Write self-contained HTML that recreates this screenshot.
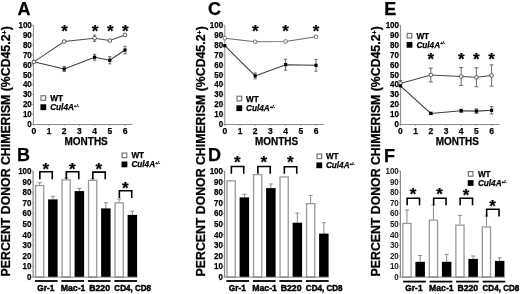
<!DOCTYPE html>
<html><head><meta charset="utf-8"><style>
html,body{margin:0;padding:0;background:#fff;width:520px;height:294px;overflow:hidden;font-family:"Liberation Sans", sans-serif;}
</style></head><body>
<svg width="520" height="294" viewBox="0 0 520 294" style="position:absolute;left:0;top:0;filter:blur(0.35px)">
<style>text{font-family:"Liberation Sans",sans-serif;font-weight:bold;fill:#000;stroke:#000;stroke-width:0.25px}.lt{stroke:none;fill:#222}.hv{stroke-width:0.45px}</style>
<text x="17.5" y="14.8" font-size="18" >A</text>
<text x="208" y="14.5" font-size="18" >C</text>
<text x="384.2" y="14.7" font-size="18" >E</text>
<text x="16.9" y="160.6" font-size="18" >B</text>
<text x="208" y="161" font-size="18" >D</text>
<text x="384" y="161.5" font-size="18" >F</text>
<text transform="translate(10,276.4) rotate(-90)" x="0" y="0" font-size="12.3">PERCENT DONOR CHIMERISM (%CD45.2<tspan font-size="7.1" dy="-3.3">+</tspan><tspan dy="3.3">)</tspan></text>
<text transform="translate(205,276.4) rotate(-90)" x="0" y="0" font-size="12.3">PERCENT DONOR CHIMERISM (%CD45.2<tspan font-size="7.1" dy="-3.3">+</tspan><tspan dy="3.3">)</tspan></text>
<text transform="translate(380,276.4) rotate(-90)" x="0" y="0" font-size="12.3">PERCENT DONOR CHIMERISM (%CD45.2<tspan font-size="7.1" dy="-3.3">+</tspan><tspan dy="3.3">)</tspan></text>
<line x1="33.4" y1="25.2" x2="33.4" y2="125" stroke="#8a8a8a" stroke-width="1"/>
<line x1="32.9" y1="124.5" x2="132.4" y2="124.5" stroke="#8a8a8a" stroke-width="1"/>
<text x="31.8" y="127.09" font-size="9.2" text-anchor="end" textLength="4.45" lengthAdjust="spacingAndGlyphs">0</text>
<line x1="31.9" y1="124.2" x2="33.4" y2="124.2" stroke="#8a8a8a" stroke-width="0.8"/>
<text x="31.8" y="117.19" font-size="9.2" text-anchor="end" textLength="8.90" lengthAdjust="spacingAndGlyphs">10</text>
<line x1="31.9" y1="114.3" x2="33.4" y2="114.3" stroke="#8a8a8a" stroke-width="0.8"/>
<text x="31.8" y="107.29" font-size="9.2" text-anchor="end" textLength="8.90" lengthAdjust="spacingAndGlyphs">20</text>
<line x1="31.9" y1="104.4" x2="33.4" y2="104.4" stroke="#8a8a8a" stroke-width="0.8"/>
<text x="31.8" y="97.39" font-size="9.2" text-anchor="end" textLength="8.90" lengthAdjust="spacingAndGlyphs">30</text>
<line x1="31.9" y1="94.5" x2="33.4" y2="94.5" stroke="#8a8a8a" stroke-width="0.8"/>
<text x="31.8" y="87.49" font-size="9.2" text-anchor="end" textLength="8.90" lengthAdjust="spacingAndGlyphs">40</text>
<line x1="31.9" y1="84.6" x2="33.4" y2="84.6" stroke="#8a8a8a" stroke-width="0.8"/>
<text x="31.8" y="77.59" font-size="9.2" text-anchor="end" textLength="8.90" lengthAdjust="spacingAndGlyphs">50</text>
<line x1="31.9" y1="74.7" x2="33.4" y2="74.7" stroke="#8a8a8a" stroke-width="0.8"/>
<text x="31.8" y="67.69" font-size="9.2" text-anchor="end" textLength="8.90" lengthAdjust="spacingAndGlyphs">60</text>
<line x1="31.9" y1="64.8" x2="33.4" y2="64.8" stroke="#8a8a8a" stroke-width="0.8"/>
<text x="31.8" y="57.79" font-size="9.2" text-anchor="end" textLength="8.90" lengthAdjust="spacingAndGlyphs">70</text>
<line x1="31.9" y1="54.9" x2="33.4" y2="54.9" stroke="#8a8a8a" stroke-width="0.8"/>
<text x="31.8" y="47.89" font-size="9.2" text-anchor="end" textLength="8.90" lengthAdjust="spacingAndGlyphs">80</text>
<line x1="31.9" y1="45" x2="33.4" y2="45" stroke="#8a8a8a" stroke-width="0.8"/>
<text x="31.8" y="37.99" font-size="9.2" text-anchor="end" textLength="8.90" lengthAdjust="spacingAndGlyphs">90</text>
<line x1="31.9" y1="35.1" x2="33.4" y2="35.1" stroke="#8a8a8a" stroke-width="0.8"/>
<text x="31.8" y="28.09" font-size="9.2" text-anchor="end" textLength="13.35" lengthAdjust="spacingAndGlyphs">100</text>
<line x1="31.9" y1="25.2" x2="33.4" y2="25.2" stroke="#8a8a8a" stroke-width="0.8"/>
<line x1="33.8" y1="124.2" x2="33.8" y2="126" stroke="#8a8a8a" stroke-width="0.8"/>
<text x="33.8" y="133.8" font-size="9.5" text-anchor="middle" textLength="4.75" lengthAdjust="spacingAndGlyphs">0</text>
<line x1="49" y1="124.2" x2="49" y2="126" stroke="#8a8a8a" stroke-width="0.8"/>
<text x="49" y="133.8" font-size="9.5" text-anchor="middle" textLength="4.75" lengthAdjust="spacingAndGlyphs">1</text>
<line x1="64.2" y1="124.2" x2="64.2" y2="126" stroke="#8a8a8a" stroke-width="0.8"/>
<text x="64.2" y="133.8" font-size="9.5" text-anchor="middle" textLength="4.75" lengthAdjust="spacingAndGlyphs">2</text>
<line x1="79.4" y1="124.2" x2="79.4" y2="126" stroke="#8a8a8a" stroke-width="0.8"/>
<text x="79.4" y="133.8" font-size="9.5" text-anchor="middle" textLength="4.75" lengthAdjust="spacingAndGlyphs">3</text>
<line x1="94.6" y1="124.2" x2="94.6" y2="126" stroke="#8a8a8a" stroke-width="0.8"/>
<text x="94.6" y="133.8" font-size="9.5" text-anchor="middle" textLength="4.75" lengthAdjust="spacingAndGlyphs">4</text>
<line x1="109.8" y1="124.2" x2="109.8" y2="126" stroke="#8a8a8a" stroke-width="0.8"/>
<text x="109.8" y="133.8" font-size="9.5" text-anchor="middle" textLength="4.75" lengthAdjust="spacingAndGlyphs">5</text>
<line x1="125" y1="124.2" x2="125" y2="126" stroke="#8a8a8a" stroke-width="0.8"/>
<text x="125" y="133.8" font-size="9.5" text-anchor="middle" textLength="4.75" lengthAdjust="spacingAndGlyphs">6</text>
<text x="86.15" y="144.6" font-size="10" text-anchor="middle" textLength="43.2" lengthAdjust="spacingAndGlyphs">MONTHS</text>
<polyline points="33.8,61.83 64.2,41.54 94.6,38.17 109.8,40.55 125,34.91" fill="none" stroke="#4a4a4a" stroke-width="1.05"/>
<polyline points="33.8,61.83 64.2,69.06 94.6,57.28 109.8,60.25 125,50.05" fill="none" stroke="#383838" stroke-width="1.05"/>
<line x1="94.6" y1="35" x2="94.6" y2="41.34" stroke="#5a5a5a" stroke-width="0.9"/>
<line x1="93" y1="35" x2="96.2" y2="35" stroke="#5a5a5a" stroke-width="0.9"/>
<line x1="93" y1="41.34" x2="96.2" y2="41.34" stroke="#5a5a5a" stroke-width="0.9"/>
<line x1="109.8" y1="39.56" x2="109.8" y2="41.54" stroke="#5a5a5a" stroke-width="0.9"/>
<line x1="108.2" y1="39.56" x2="111.4" y2="39.56" stroke="#5a5a5a" stroke-width="0.9"/>
<line x1="108.2" y1="41.54" x2="111.4" y2="41.54" stroke="#5a5a5a" stroke-width="0.9"/>
<line x1="125" y1="33.92" x2="125" y2="35.89" stroke="#5a5a5a" stroke-width="0.9"/>
<line x1="123.4" y1="33.92" x2="126.6" y2="33.92" stroke="#5a5a5a" stroke-width="0.9"/>
<line x1="123.4" y1="35.89" x2="126.6" y2="35.89" stroke="#5a5a5a" stroke-width="0.9"/>
<line x1="64.2" y1="66.59" x2="64.2" y2="71.53" stroke="#5a5a5a" stroke-width="0.9"/>
<line x1="62.6" y1="66.59" x2="65.8" y2="66.59" stroke="#5a5a5a" stroke-width="0.9"/>
<line x1="62.6" y1="71.53" x2="65.8" y2="71.53" stroke="#5a5a5a" stroke-width="0.9"/>
<line x1="94.6" y1="54.31" x2="94.6" y2="60.25" stroke="#5a5a5a" stroke-width="0.9"/>
<line x1="93" y1="54.31" x2="96.2" y2="54.31" stroke="#5a5a5a" stroke-width="0.9"/>
<line x1="93" y1="60.25" x2="96.2" y2="60.25" stroke="#5a5a5a" stroke-width="0.9"/>
<line x1="109.8" y1="56.69" x2="109.8" y2="63.81" stroke="#5a5a5a" stroke-width="0.9"/>
<line x1="108.2" y1="56.69" x2="111.4" y2="56.69" stroke="#5a5a5a" stroke-width="0.9"/>
<line x1="108.2" y1="63.81" x2="111.4" y2="63.81" stroke="#5a5a5a" stroke-width="0.9"/>
<line x1="125" y1="46.19" x2="125" y2="53.91" stroke="#5a5a5a" stroke-width="0.9"/>
<line x1="123.4" y1="46.19" x2="126.6" y2="46.19" stroke="#5a5a5a" stroke-width="0.9"/>
<line x1="123.4" y1="53.91" x2="126.6" y2="53.91" stroke="#5a5a5a" stroke-width="0.9"/>
<rect x="32.2" y="60.23" width="3.2" height="3.2" fill="#000" stroke="none" stroke-width="1"/>
<rect x="62.6" y="67.46" width="3.2" height="3.2" fill="#000" stroke="none" stroke-width="1"/>
<rect x="93" y="55.68" width="3.2" height="3.2" fill="#000" stroke="none" stroke-width="1"/>
<rect x="108.2" y="58.65" width="3.2" height="3.2" fill="#000" stroke="none" stroke-width="1"/>
<rect x="123.4" y="48.45" width="3.2" height="3.2" fill="#000" stroke="none" stroke-width="1"/>
<rect x="32.15" y="60.18" width="3.3" height="3.3" rx="0.9" fill="#fff" stroke="#555" stroke-width="1"/>
<rect x="62.55" y="39.89" width="3.3" height="3.3" rx="0.9" fill="#fff" stroke="#555" stroke-width="1"/>
<rect x="92.95" y="36.52" width="3.3" height="3.3" rx="0.9" fill="#fff" stroke="#555" stroke-width="1"/>
<rect x="108.15" y="38.9" width="3.3" height="3.3" rx="0.9" fill="#fff" stroke="#555" stroke-width="1"/>
<rect x="123.35" y="33.26" width="3.3" height="3.3" rx="0.9" fill="#fff" stroke="#555" stroke-width="1"/>
<text x="64.6" y="36.77" font-size="17" text-anchor="middle" >*</text>
<text x="95" y="36.77" font-size="17" text-anchor="middle" >*</text>
<text x="110.2" y="36.77" font-size="17" text-anchor="middle" >*</text>
<text x="125.4" y="36.77" font-size="17" text-anchor="middle" >*</text>
<rect x="41" y="95.75" width="4.6" height="4.6" fill="#fff" stroke="#777" stroke-width="1.2"/>
<rect x="40.4" y="104.3" width="5.8" height="5.8" fill="#000" stroke="none" stroke-width="1"/>
<text x="50.2" y="101.05" font-size="8.2" >WT</text>
<text x="50.2" y="110.2" font-size="8.2" font-weight="bold" font-style="italic">Cul4A<tspan font-size="4.4" dy="-3.4">+/-</tspan></text>
<line x1="224.8" y1="25.2" x2="224.8" y2="125" stroke="#8a8a8a" stroke-width="1"/>
<line x1="224.3" y1="124.5" x2="323.8" y2="124.5" stroke="#8a8a8a" stroke-width="1"/>
<text x="223.2" y="127.09" font-size="9.2" text-anchor="end" textLength="4.45" lengthAdjust="spacingAndGlyphs">0</text>
<line x1="223.3" y1="124.2" x2="224.8" y2="124.2" stroke="#8a8a8a" stroke-width="0.8"/>
<text x="223.2" y="117.19" font-size="9.2" text-anchor="end" textLength="8.90" lengthAdjust="spacingAndGlyphs">10</text>
<line x1="223.3" y1="114.3" x2="224.8" y2="114.3" stroke="#8a8a8a" stroke-width="0.8"/>
<text x="223.2" y="107.29" font-size="9.2" text-anchor="end" textLength="8.90" lengthAdjust="spacingAndGlyphs">20</text>
<line x1="223.3" y1="104.4" x2="224.8" y2="104.4" stroke="#8a8a8a" stroke-width="0.8"/>
<text x="223.2" y="97.39" font-size="9.2" text-anchor="end" textLength="8.90" lengthAdjust="spacingAndGlyphs">30</text>
<line x1="223.3" y1="94.5" x2="224.8" y2="94.5" stroke="#8a8a8a" stroke-width="0.8"/>
<text x="223.2" y="87.49" font-size="9.2" text-anchor="end" textLength="8.90" lengthAdjust="spacingAndGlyphs">40</text>
<line x1="223.3" y1="84.6" x2="224.8" y2="84.6" stroke="#8a8a8a" stroke-width="0.8"/>
<text x="223.2" y="77.59" font-size="9.2" text-anchor="end" textLength="8.90" lengthAdjust="spacingAndGlyphs">50</text>
<line x1="223.3" y1="74.7" x2="224.8" y2="74.7" stroke="#8a8a8a" stroke-width="0.8"/>
<text x="223.2" y="67.69" font-size="9.2" text-anchor="end" textLength="8.90" lengthAdjust="spacingAndGlyphs">60</text>
<line x1="223.3" y1="64.8" x2="224.8" y2="64.8" stroke="#8a8a8a" stroke-width="0.8"/>
<text x="223.2" y="57.79" font-size="9.2" text-anchor="end" textLength="8.90" lengthAdjust="spacingAndGlyphs">70</text>
<line x1="223.3" y1="54.9" x2="224.8" y2="54.9" stroke="#8a8a8a" stroke-width="0.8"/>
<text x="223.2" y="47.89" font-size="9.2" text-anchor="end" textLength="8.90" lengthAdjust="spacingAndGlyphs">80</text>
<line x1="223.3" y1="45" x2="224.8" y2="45" stroke="#8a8a8a" stroke-width="0.8"/>
<text x="223.2" y="37.99" font-size="9.2" text-anchor="end" textLength="8.90" lengthAdjust="spacingAndGlyphs">90</text>
<line x1="223.3" y1="35.1" x2="224.8" y2="35.1" stroke="#8a8a8a" stroke-width="0.8"/>
<text x="223.2" y="28.09" font-size="9.2" text-anchor="end" textLength="13.35" lengthAdjust="spacingAndGlyphs">100</text>
<line x1="223.3" y1="25.2" x2="224.8" y2="25.2" stroke="#8a8a8a" stroke-width="0.8"/>
<line x1="224.8" y1="124.2" x2="224.8" y2="126" stroke="#8a8a8a" stroke-width="0.8"/>
<text x="224.8" y="133.8" font-size="9.5" text-anchor="middle" textLength="4.75" lengthAdjust="spacingAndGlyphs">0</text>
<line x1="240" y1="124.2" x2="240" y2="126" stroke="#8a8a8a" stroke-width="0.8"/>
<text x="240" y="133.8" font-size="9.5" text-anchor="middle" textLength="4.75" lengthAdjust="spacingAndGlyphs">1</text>
<line x1="255.2" y1="124.2" x2="255.2" y2="126" stroke="#8a8a8a" stroke-width="0.8"/>
<text x="255.2" y="133.8" font-size="9.5" text-anchor="middle" textLength="4.75" lengthAdjust="spacingAndGlyphs">2</text>
<line x1="270.4" y1="124.2" x2="270.4" y2="126" stroke="#8a8a8a" stroke-width="0.8"/>
<text x="270.4" y="133.8" font-size="9.5" text-anchor="middle" textLength="4.75" lengthAdjust="spacingAndGlyphs">3</text>
<line x1="285.6" y1="124.2" x2="285.6" y2="126" stroke="#8a8a8a" stroke-width="0.8"/>
<text x="285.6" y="133.8" font-size="9.5" text-anchor="middle" textLength="4.75" lengthAdjust="spacingAndGlyphs">4</text>
<line x1="300.8" y1="124.2" x2="300.8" y2="126" stroke="#8a8a8a" stroke-width="0.8"/>
<text x="300.8" y="133.8" font-size="9.5" text-anchor="middle" textLength="4.75" lengthAdjust="spacingAndGlyphs">5</text>
<line x1="316" y1="124.2" x2="316" y2="126" stroke="#8a8a8a" stroke-width="0.8"/>
<text x="316" y="133.8" font-size="9.5" text-anchor="middle" textLength="4.75" lengthAdjust="spacingAndGlyphs">6</text>
<text x="276.55" y="144.6" font-size="10" text-anchor="middle" textLength="43.2" lengthAdjust="spacingAndGlyphs">MONTHS</text>
<polyline points="224.8,38.18 255.2,41.74 285.6,41.44 316,36.79" fill="none" stroke="#6a6a6a" stroke-width="1.05"/>
<polyline points="224.8,45.7 255.2,75.9 285.6,64.71 316,65.3" fill="none" stroke="#383838" stroke-width="1.05"/>
<line x1="255.2" y1="40.75" x2="255.2" y2="42.73" stroke="#5a5a5a" stroke-width="0.9"/>
<line x1="253.6" y1="40.75" x2="256.8" y2="40.75" stroke="#5a5a5a" stroke-width="0.9"/>
<line x1="253.6" y1="42.73" x2="256.8" y2="42.73" stroke="#5a5a5a" stroke-width="0.9"/>
<line x1="285.6" y1="40.45" x2="285.6" y2="42.43" stroke="#5a5a5a" stroke-width="0.9"/>
<line x1="284" y1="40.45" x2="287.2" y2="40.45" stroke="#5a5a5a" stroke-width="0.9"/>
<line x1="284" y1="42.43" x2="287.2" y2="42.43" stroke="#5a5a5a" stroke-width="0.9"/>
<line x1="316" y1="35.8" x2="316" y2="37.78" stroke="#5a5a5a" stroke-width="0.9"/>
<line x1="314.4" y1="35.8" x2="317.6" y2="35.8" stroke="#5a5a5a" stroke-width="0.9"/>
<line x1="314.4" y1="37.78" x2="317.6" y2="37.78" stroke="#5a5a5a" stroke-width="0.9"/>
<line x1="255.2" y1="72.93" x2="255.2" y2="78.87" stroke="#5a5a5a" stroke-width="0.9"/>
<line x1="253.6" y1="72.93" x2="256.8" y2="72.93" stroke="#5a5a5a" stroke-width="0.9"/>
<line x1="253.6" y1="78.87" x2="256.8" y2="78.87" stroke="#5a5a5a" stroke-width="0.9"/>
<line x1="285.6" y1="59.16" x2="285.6" y2="70.25" stroke="#5a5a5a" stroke-width="0.9"/>
<line x1="284" y1="59.16" x2="287.2" y2="59.16" stroke="#5a5a5a" stroke-width="0.9"/>
<line x1="284" y1="70.25" x2="287.2" y2="70.25" stroke="#5a5a5a" stroke-width="0.9"/>
<line x1="316" y1="59.36" x2="316" y2="71.24" stroke="#5a5a5a" stroke-width="0.9"/>
<line x1="314.4" y1="59.36" x2="317.6" y2="59.36" stroke="#5a5a5a" stroke-width="0.9"/>
<line x1="314.4" y1="71.24" x2="317.6" y2="71.24" stroke="#5a5a5a" stroke-width="0.9"/>
<rect x="223.15" y="36.53" width="3.3" height="3.3" rx="0.9" fill="#fff" stroke="#777" stroke-width="1"/>
<rect x="253.55" y="40.09" width="3.3" height="3.3" rx="0.9" fill="#fff" stroke="#777" stroke-width="1"/>
<rect x="283.95" y="39.79" width="3.3" height="3.3" rx="0.9" fill="#fff" stroke="#777" stroke-width="1"/>
<rect x="314.35" y="35.14" width="3.3" height="3.3" rx="0.9" fill="#fff" stroke="#777" stroke-width="1"/>
<rect x="223.2" y="44.1" width="3.2" height="3.2" fill="#000" stroke="none" stroke-width="1"/>
<rect x="253.6" y="74.3" width="3.2" height="3.2" fill="#000" stroke="none" stroke-width="1"/>
<rect x="284" y="63.11" width="3.2" height="3.2" fill="#000" stroke="none" stroke-width="1"/>
<rect x="314.4" y="63.7" width="3.2" height="3.2" fill="#000" stroke="none" stroke-width="1"/>
<text x="255.2" y="37.17" font-size="17" text-anchor="middle" >*</text>
<text x="285.6" y="37.17" font-size="17" text-anchor="middle" >*</text>
<text x="316" y="37.17" font-size="17" text-anchor="middle" >*</text>
<rect x="237" y="96.25" width="4.6" height="4.6" fill="#fff" stroke="#777" stroke-width="1.2"/>
<rect x="236.4" y="105.3" width="5.8" height="5.8" fill="#000" stroke="none" stroke-width="1"/>
<text x="246" y="101.55" font-size="8.2" >WT</text>
<text x="246" y="111.2" font-size="8.2" font-weight="bold" font-style="italic">Cul4A<tspan font-size="4.4" dy="-3.4">+/-</tspan></text>
<line x1="400.6" y1="25.2" x2="400.6" y2="125" stroke="#8a8a8a" stroke-width="1"/>
<line x1="400.1" y1="124.5" x2="499.6" y2="124.5" stroke="#8a8a8a" stroke-width="1"/>
<text x="399" y="127.09" font-size="9.2" text-anchor="end" textLength="4.45" lengthAdjust="spacingAndGlyphs">0</text>
<line x1="399.1" y1="124.2" x2="400.6" y2="124.2" stroke="#8a8a8a" stroke-width="0.8"/>
<text x="399" y="117.19" font-size="9.2" text-anchor="end" textLength="8.90" lengthAdjust="spacingAndGlyphs">10</text>
<line x1="399.1" y1="114.3" x2="400.6" y2="114.3" stroke="#8a8a8a" stroke-width="0.8"/>
<text x="399" y="107.29" font-size="9.2" text-anchor="end" textLength="8.90" lengthAdjust="spacingAndGlyphs">20</text>
<line x1="399.1" y1="104.4" x2="400.6" y2="104.4" stroke="#8a8a8a" stroke-width="0.8"/>
<text x="399" y="97.39" font-size="9.2" text-anchor="end" textLength="8.90" lengthAdjust="spacingAndGlyphs">30</text>
<line x1="399.1" y1="94.5" x2="400.6" y2="94.5" stroke="#8a8a8a" stroke-width="0.8"/>
<text x="399" y="87.49" font-size="9.2" text-anchor="end" textLength="8.90" lengthAdjust="spacingAndGlyphs">40</text>
<line x1="399.1" y1="84.6" x2="400.6" y2="84.6" stroke="#8a8a8a" stroke-width="0.8"/>
<text x="399" y="77.59" font-size="9.2" text-anchor="end" textLength="8.90" lengthAdjust="spacingAndGlyphs">50</text>
<line x1="399.1" y1="74.7" x2="400.6" y2="74.7" stroke="#8a8a8a" stroke-width="0.8"/>
<text x="399" y="67.69" font-size="9.2" text-anchor="end" textLength="8.90" lengthAdjust="spacingAndGlyphs">60</text>
<line x1="399.1" y1="64.8" x2="400.6" y2="64.8" stroke="#8a8a8a" stroke-width="0.8"/>
<text x="399" y="57.79" font-size="9.2" text-anchor="end" textLength="8.90" lengthAdjust="spacingAndGlyphs">70</text>
<line x1="399.1" y1="54.9" x2="400.6" y2="54.9" stroke="#8a8a8a" stroke-width="0.8"/>
<text x="399" y="47.89" font-size="9.2" text-anchor="end" textLength="8.90" lengthAdjust="spacingAndGlyphs">80</text>
<line x1="399.1" y1="45" x2="400.6" y2="45" stroke="#8a8a8a" stroke-width="0.8"/>
<text x="399" y="37.99" font-size="9.2" text-anchor="end" textLength="8.90" lengthAdjust="spacingAndGlyphs">90</text>
<line x1="399.1" y1="35.1" x2="400.6" y2="35.1" stroke="#8a8a8a" stroke-width="0.8"/>
<text x="399" y="28.09" font-size="9.2" text-anchor="end" textLength="13.35" lengthAdjust="spacingAndGlyphs">100</text>
<line x1="399.1" y1="25.2" x2="400.6" y2="25.2" stroke="#8a8a8a" stroke-width="0.8"/>
<line x1="400.4" y1="124.2" x2="400.4" y2="126" stroke="#8a8a8a" stroke-width="0.8"/>
<text x="400.4" y="133.8" font-size="9.5" text-anchor="middle" textLength="4.75" lengthAdjust="spacingAndGlyphs">0</text>
<line x1="415.6" y1="124.2" x2="415.6" y2="126" stroke="#8a8a8a" stroke-width="0.8"/>
<text x="415.6" y="133.8" font-size="9.5" text-anchor="middle" textLength="4.75" lengthAdjust="spacingAndGlyphs">1</text>
<line x1="430.8" y1="124.2" x2="430.8" y2="126" stroke="#8a8a8a" stroke-width="0.8"/>
<text x="430.8" y="133.8" font-size="9.5" text-anchor="middle" textLength="4.75" lengthAdjust="spacingAndGlyphs">2</text>
<line x1="446" y1="124.2" x2="446" y2="126" stroke="#8a8a8a" stroke-width="0.8"/>
<text x="446" y="133.8" font-size="9.5" text-anchor="middle" textLength="4.75" lengthAdjust="spacingAndGlyphs">3</text>
<line x1="461.2" y1="124.2" x2="461.2" y2="126" stroke="#8a8a8a" stroke-width="0.8"/>
<text x="461.2" y="133.8" font-size="9.5" text-anchor="middle" textLength="4.75" lengthAdjust="spacingAndGlyphs">4</text>
<line x1="476.4" y1="124.2" x2="476.4" y2="126" stroke="#8a8a8a" stroke-width="0.8"/>
<text x="476.4" y="133.8" font-size="9.5" text-anchor="middle" textLength="4.75" lengthAdjust="spacingAndGlyphs">5</text>
<line x1="491.6" y1="124.2" x2="491.6" y2="126" stroke="#8a8a8a" stroke-width="0.8"/>
<text x="491.6" y="133.8" font-size="9.5" text-anchor="middle" textLength="4.75" lengthAdjust="spacingAndGlyphs">6</text>
<text x="457.3" y="144.6" font-size="10" text-anchor="middle" textLength="43.2" lengthAdjust="spacingAndGlyphs">MONTHS</text>
<polyline points="400.4,83.42 430.8,75 461.2,76.49 476.4,77.28 491.6,75.5" fill="none" stroke="#4a4a4a" stroke-width="1.05"/>
<polyline points="400.4,85.79 430.8,113.41 461.2,110.74 476.4,111.14 491.6,110.34" fill="none" stroke="#383838" stroke-width="1.05"/>
<line x1="400.4" y1="80.45" x2="400.4" y2="86.39" stroke="#5a5a5a" stroke-width="0.9"/>
<line x1="398.4" y1="80.45" x2="402.4" y2="80.45" stroke="#5a5a5a" stroke-width="0.9"/>
<line x1="398.4" y1="86.39" x2="402.4" y2="86.39" stroke="#5a5a5a" stroke-width="0.9"/>
<line x1="430.8" y1="68.07" x2="430.8" y2="81.93" stroke="#5a5a5a" stroke-width="0.9"/>
<line x1="428.8" y1="68.07" x2="432.8" y2="68.07" stroke="#5a5a5a" stroke-width="0.9"/>
<line x1="428.8" y1="81.93" x2="432.8" y2="81.93" stroke="#5a5a5a" stroke-width="0.9"/>
<line x1="461.2" y1="67.58" x2="461.2" y2="85.4" stroke="#5a5a5a" stroke-width="0.9"/>
<line x1="459.2" y1="67.58" x2="463.2" y2="67.58" stroke="#5a5a5a" stroke-width="0.9"/>
<line x1="459.2" y1="85.4" x2="463.2" y2="85.4" stroke="#5a5a5a" stroke-width="0.9"/>
<line x1="476.4" y1="67.77" x2="476.4" y2="86.78" stroke="#5a5a5a" stroke-width="0.9"/>
<line x1="474.4" y1="67.77" x2="478.4" y2="67.77" stroke="#5a5a5a" stroke-width="0.9"/>
<line x1="474.4" y1="86.78" x2="478.4" y2="86.78" stroke="#5a5a5a" stroke-width="0.9"/>
<line x1="491.6" y1="64.9" x2="491.6" y2="86.09" stroke="#5a5a5a" stroke-width="0.9"/>
<line x1="489.6" y1="64.9" x2="493.6" y2="64.9" stroke="#5a5a5a" stroke-width="0.9"/>
<line x1="489.6" y1="86.09" x2="493.6" y2="86.09" stroke="#5a5a5a" stroke-width="0.9"/>
<line x1="430.8" y1="112.23" x2="430.8" y2="114.6" stroke="#5a5a5a" stroke-width="0.9"/>
<line x1="428.8" y1="112.23" x2="432.8" y2="112.23" stroke="#5a5a5a" stroke-width="0.9"/>
<line x1="428.8" y1="114.6" x2="432.8" y2="114.6" stroke="#5a5a5a" stroke-width="0.9"/>
<line x1="461.2" y1="109.26" x2="461.2" y2="112.23" stroke="#5a5a5a" stroke-width="0.9"/>
<line x1="459.2" y1="109.26" x2="463.2" y2="109.26" stroke="#5a5a5a" stroke-width="0.9"/>
<line x1="459.2" y1="112.23" x2="463.2" y2="112.23" stroke="#5a5a5a" stroke-width="0.9"/>
<line x1="476.4" y1="108.96" x2="476.4" y2="113.31" stroke="#5a5a5a" stroke-width="0.9"/>
<line x1="474.4" y1="108.96" x2="478.4" y2="108.96" stroke="#5a5a5a" stroke-width="0.9"/>
<line x1="474.4" y1="113.31" x2="478.4" y2="113.31" stroke="#5a5a5a" stroke-width="0.9"/>
<line x1="491.6" y1="106.68" x2="491.6" y2="114.01" stroke="#5a5a5a" stroke-width="0.9"/>
<line x1="489.6" y1="106.68" x2="493.6" y2="106.68" stroke="#5a5a5a" stroke-width="0.9"/>
<line x1="489.6" y1="114.01" x2="493.6" y2="114.01" stroke="#5a5a5a" stroke-width="0.9"/>
<rect x="398.75" y="81.77" width="3.3" height="3.3" rx="0.9" fill="#fff" stroke="#555" stroke-width="1"/>
<rect x="429.15" y="73.35" width="3.3" height="3.3" rx="0.9" fill="#fff" stroke="#555" stroke-width="1"/>
<rect x="459.55" y="74.84" width="3.3" height="3.3" rx="0.9" fill="#fff" stroke="#555" stroke-width="1"/>
<rect x="474.75" y="75.63" width="3.3" height="3.3" rx="0.9" fill="#fff" stroke="#555" stroke-width="1"/>
<rect x="489.95" y="73.85" width="3.3" height="3.3" rx="0.9" fill="#fff" stroke="#555" stroke-width="1"/>
<rect x="398.8" y="84.19" width="3.2" height="3.2" fill="#000" stroke="none" stroke-width="1"/>
<rect x="429.2" y="111.81" width="3.2" height="3.2" fill="#000" stroke="none" stroke-width="1"/>
<rect x="459.6" y="109.14" width="3.2" height="3.2" fill="#000" stroke="none" stroke-width="1"/>
<rect x="474.8" y="109.54" width="3.2" height="3.2" fill="#000" stroke="none" stroke-width="1"/>
<rect x="490" y="108.74" width="3.2" height="3.2" fill="#000" stroke="none" stroke-width="1"/>
<text x="430.8" y="65.17" font-size="17" text-anchor="middle" >*</text>
<text x="461.2" y="65.17" font-size="17" text-anchor="middle" >*</text>
<text x="476.4" y="65.17" font-size="17" text-anchor="middle" >*</text>
<text x="491.6" y="65.17" font-size="17" text-anchor="middle" >*</text>
<rect x="407.2" y="33.4" width="4.6" height="4.6" fill="#fff" stroke="#777" stroke-width="1.2"/>
<rect x="406.6" y="41.95" width="5.8" height="5.8" fill="#000" stroke="none" stroke-width="1"/>
<text x="416.4" y="38.7" font-size="8.2" >WT</text>
<text x="416.4" y="47.85" font-size="8.2" font-weight="bold" font-style="italic">Cul4A<tspan font-size="4.4" dy="-3.4">+/-</tspan></text>
<line x1="33.1" y1="171.1" x2="33.1" y2="277.1" stroke="#8a8a8a" stroke-width="1.2"/>
<text x="31.5" y="279.99" font-size="9.2" text-anchor="end" textLength="4.45" lengthAdjust="spacingAndGlyphs">0</text>
<line x1="31.6" y1="277.1" x2="33.1" y2="277.1" stroke="#8a8a8a" stroke-width="0.8"/>
<text x="31.5" y="269.39" font-size="9.2" text-anchor="end" textLength="8.90" lengthAdjust="spacingAndGlyphs">10</text>
<line x1="31.6" y1="266.5" x2="33.1" y2="266.5" stroke="#8a8a8a" stroke-width="0.8"/>
<text x="31.5" y="258.79" font-size="9.2" text-anchor="end" textLength="8.90" lengthAdjust="spacingAndGlyphs">20</text>
<line x1="31.6" y1="255.9" x2="33.1" y2="255.9" stroke="#8a8a8a" stroke-width="0.8"/>
<text x="31.5" y="248.19" font-size="9.2" text-anchor="end" textLength="8.90" lengthAdjust="spacingAndGlyphs">30</text>
<line x1="31.6" y1="245.3" x2="33.1" y2="245.3" stroke="#8a8a8a" stroke-width="0.8"/>
<text x="31.5" y="237.59" font-size="9.2" text-anchor="end" textLength="8.90" lengthAdjust="spacingAndGlyphs">40</text>
<line x1="31.6" y1="234.7" x2="33.1" y2="234.7" stroke="#8a8a8a" stroke-width="0.8"/>
<text x="31.5" y="226.99" font-size="9.2" text-anchor="end" textLength="8.90" lengthAdjust="spacingAndGlyphs">50</text>
<line x1="31.6" y1="224.1" x2="33.1" y2="224.1" stroke="#8a8a8a" stroke-width="0.8"/>
<text x="31.5" y="216.39" font-size="9.2" text-anchor="end" textLength="8.90" lengthAdjust="spacingAndGlyphs">60</text>
<line x1="31.6" y1="213.5" x2="33.1" y2="213.5" stroke="#8a8a8a" stroke-width="0.8"/>
<text x="31.5" y="205.79" font-size="9.2" text-anchor="end" textLength="8.90" lengthAdjust="spacingAndGlyphs">70</text>
<line x1="31.6" y1="202.9" x2="33.1" y2="202.9" stroke="#8a8a8a" stroke-width="0.8"/>
<text x="31.5" y="195.19" font-size="9.2" text-anchor="end" textLength="8.90" lengthAdjust="spacingAndGlyphs">80</text>
<line x1="31.6" y1="192.3" x2="33.1" y2="192.3" stroke="#8a8a8a" stroke-width="0.8"/>
<text x="31.5" y="184.59" font-size="9.2" text-anchor="end" textLength="8.90" lengthAdjust="spacingAndGlyphs">90</text>
<line x1="31.6" y1="181.7" x2="33.1" y2="181.7" stroke="#8a8a8a" stroke-width="0.8"/>
<text x="31.5" y="173.99" font-size="9.2" text-anchor="end" textLength="13.35" lengthAdjust="spacingAndGlyphs">100</text>
<line x1="31.6" y1="171.1" x2="33.1" y2="171.1" stroke="#8a8a8a" stroke-width="0.8"/>
<line x1="39.65" y1="184.9" x2="39.65" y2="182.7" stroke="#8a8a8a" stroke-width="1"/>
<line x1="37.65" y1="182.7" x2="41.65" y2="182.7" stroke="#8a8a8a" stroke-width="1"/>
<line x1="52.85" y1="199.4" x2="52.85" y2="196.3" stroke="#8a8a8a" stroke-width="1"/>
<line x1="50.85" y1="196.3" x2="54.85" y2="196.3" stroke="#8a8a8a" stroke-width="1"/>
<rect x="35.55" y="185.55" width="8.2" height="91.55" fill="#fff" stroke="#999" stroke-width="1.3"/>
<rect x="48.1" y="199.4" width="9.5" height="77.7" fill="#000" stroke="none" stroke-width="1"/>
<line x1="34.9" y1="281" x2="57.6" y2="281" stroke="#000" stroke-width="1.8"/>
<line x1="66.15" y1="179.2" x2="66.15" y2="177.7" stroke="#8a8a8a" stroke-width="1"/>
<line x1="64.15" y1="177.7" x2="68.15" y2="177.7" stroke="#8a8a8a" stroke-width="1"/>
<line x1="79.35" y1="191.1" x2="79.35" y2="188.4" stroke="#8a8a8a" stroke-width="1"/>
<line x1="77.35" y1="188.4" x2="81.35" y2="188.4" stroke="#8a8a8a" stroke-width="1"/>
<rect x="62.05" y="179.85" width="8.2" height="97.25" fill="#fff" stroke="#999" stroke-width="1.3"/>
<rect x="74.6" y="191.1" width="9.5" height="86" fill="#000" stroke="none" stroke-width="1"/>
<line x1="61.4" y1="281" x2="84.1" y2="281" stroke="#000" stroke-width="1.8"/>
<line x1="92.65" y1="179.7" x2="92.65" y2="178.8" stroke="#8a8a8a" stroke-width="1"/>
<line x1="90.65" y1="178.8" x2="94.65" y2="178.8" stroke="#8a8a8a" stroke-width="1"/>
<line x1="105.85" y1="208.4" x2="105.85" y2="202.7" stroke="#8a8a8a" stroke-width="1"/>
<line x1="103.85" y1="202.7" x2="107.85" y2="202.7" stroke="#8a8a8a" stroke-width="1"/>
<rect x="88.55" y="180.35" width="8.2" height="96.75" fill="#fff" stroke="#999" stroke-width="1.3"/>
<rect x="101.1" y="208.4" width="9.5" height="68.7" fill="#000" stroke="none" stroke-width="1"/>
<line x1="87.9" y1="281" x2="110.6" y2="281" stroke="#000" stroke-width="1.8"/>
<line x1="119.15" y1="202.2" x2="119.15" y2="199" stroke="#8a8a8a" stroke-width="1"/>
<line x1="117.15" y1="199" x2="121.15" y2="199" stroke="#8a8a8a" stroke-width="1"/>
<line x1="132.35" y1="214.9" x2="132.35" y2="211.2" stroke="#8a8a8a" stroke-width="1"/>
<line x1="130.35" y1="211.2" x2="134.35" y2="211.2" stroke="#8a8a8a" stroke-width="1"/>
<rect x="115.05" y="202.85" width="8.2" height="74.25" fill="#fff" stroke="#999" stroke-width="1.3"/>
<rect x="127.6" y="214.9" width="9.5" height="62.2" fill="#000" stroke="none" stroke-width="1"/>
<line x1="114.4" y1="281" x2="137.1" y2="281" stroke="#000" stroke-width="1.8"/>
<line x1="32.6" y1="277.1" x2="137.6" y2="277.1" stroke="#777" stroke-width="0.9"/>
<text x="45.75" y="291.2" font-size="9.3" text-anchor="middle" class="hv" textLength="17.2" lengthAdjust="spacingAndGlyphs">Gr-1</text>
<text x="73.1" y="291.2" font-size="9.3" text-anchor="middle" class="hv" textLength="24.6" lengthAdjust="spacingAndGlyphs">Mac-1</text>
<text x="99.6" y="291.2" font-size="9.3" text-anchor="middle" class="hv" textLength="20.8" lengthAdjust="spacingAndGlyphs">B220</text>
<text x="114.3" y="291.2" font-size="8.6" class="hv" textLength="36.8" lengthAdjust="spacingAndGlyphs">CD4, CD8</text>
<polyline points="39.85,179.3 39.85,171.8 52.25,171.8 52.25,179.3" fill="none" stroke="#000" stroke-width="1.6"/>
<text x="45.75" y="175.07" font-size="17" text-anchor="middle" >*</text>
<polyline points="66.35,179.3 66.35,171.8 78.75,171.8 78.75,179.3" fill="none" stroke="#000" stroke-width="1.6"/>
<text x="72.25" y="175.07" font-size="17" text-anchor="middle" >*</text>
<polyline points="92.85,179.3 92.85,172.1 105.25,172.1 105.25,179.3" fill="none" stroke="#000" stroke-width="1.6"/>
<text x="98.75" y="174.57" font-size="17" text-anchor="middle" >*</text>
<polyline points="119.35,198 119.35,190.7 131.75,190.7 131.75,198" fill="none" stroke="#000" stroke-width="1.6"/>
<text x="125.25" y="193.67" font-size="17" text-anchor="middle" >*</text>
<rect x="122.15" y="153.05" width="4.6" height="4.6" fill="#fff" stroke="#777" stroke-width="1.2"/>
<rect x="121.55" y="161.5" width="5.8" height="5.8" fill="#000" stroke="none" stroke-width="1"/>
<text x="131.4" y="158.35" font-size="8.2" >WT</text>
<text x="131.4" y="167.4" font-size="8.2" font-weight="bold" font-style="italic">Cul4A<tspan font-size="4.4" dy="-3.4">+/-</tspan></text>
<line x1="224.6" y1="171.1" x2="224.6" y2="277.1" stroke="#8a8a8a" stroke-width="1.2"/>
<text x="223" y="279.99" font-size="9.2" text-anchor="end" textLength="4.45" lengthAdjust="spacingAndGlyphs">0</text>
<line x1="223.1" y1="277.1" x2="224.6" y2="277.1" stroke="#8a8a8a" stroke-width="0.8"/>
<text x="223" y="269.39" font-size="9.2" text-anchor="end" textLength="8.90" lengthAdjust="spacingAndGlyphs">10</text>
<line x1="223.1" y1="266.5" x2="224.6" y2="266.5" stroke="#8a8a8a" stroke-width="0.8"/>
<text x="223" y="258.79" font-size="9.2" text-anchor="end" textLength="8.90" lengthAdjust="spacingAndGlyphs">20</text>
<line x1="223.1" y1="255.9" x2="224.6" y2="255.9" stroke="#8a8a8a" stroke-width="0.8"/>
<text x="223" y="248.19" font-size="9.2" text-anchor="end" textLength="8.90" lengthAdjust="spacingAndGlyphs">30</text>
<line x1="223.1" y1="245.3" x2="224.6" y2="245.3" stroke="#8a8a8a" stroke-width="0.8"/>
<text x="223" y="237.59" font-size="9.2" text-anchor="end" textLength="8.90" lengthAdjust="spacingAndGlyphs">40</text>
<line x1="223.1" y1="234.7" x2="224.6" y2="234.7" stroke="#8a8a8a" stroke-width="0.8"/>
<text x="223" y="226.99" font-size="9.2" text-anchor="end" textLength="8.90" lengthAdjust="spacingAndGlyphs">50</text>
<line x1="223.1" y1="224.1" x2="224.6" y2="224.1" stroke="#8a8a8a" stroke-width="0.8"/>
<text x="223" y="216.39" font-size="9.2" text-anchor="end" textLength="8.90" lengthAdjust="spacingAndGlyphs">60</text>
<line x1="223.1" y1="213.5" x2="224.6" y2="213.5" stroke="#8a8a8a" stroke-width="0.8"/>
<text x="223" y="205.79" font-size="9.2" text-anchor="end" textLength="8.90" lengthAdjust="spacingAndGlyphs">70</text>
<line x1="223.1" y1="202.9" x2="224.6" y2="202.9" stroke="#8a8a8a" stroke-width="0.8"/>
<text x="223" y="195.19" font-size="9.2" text-anchor="end" textLength="8.90" lengthAdjust="spacingAndGlyphs">80</text>
<line x1="223.1" y1="192.3" x2="224.6" y2="192.3" stroke="#8a8a8a" stroke-width="0.8"/>
<text x="223" y="184.59" font-size="9.2" text-anchor="end" textLength="8.90" lengthAdjust="spacingAndGlyphs">90</text>
<line x1="223.1" y1="181.7" x2="224.6" y2="181.7" stroke="#8a8a8a" stroke-width="0.8"/>
<text x="223" y="173.99" font-size="9.2" text-anchor="end" textLength="13.35" lengthAdjust="spacingAndGlyphs">100</text>
<line x1="223.1" y1="171.1" x2="224.6" y2="171.1" stroke="#8a8a8a" stroke-width="0.8"/>
<line x1="244.35" y1="197.4" x2="244.35" y2="194.2" stroke="#8a8a8a" stroke-width="1"/>
<line x1="242.35" y1="194.2" x2="246.35" y2="194.2" stroke="#8a8a8a" stroke-width="1"/>
<rect x="227.05" y="180.85" width="8.2" height="96.25" fill="#fff" stroke="#999" stroke-width="1.3"/>
<rect x="239.6" y="197.4" width="9.5" height="79.7" fill="#000" stroke="none" stroke-width="1"/>
<line x1="226.4" y1="281" x2="249.1" y2="281" stroke="#000" stroke-width="1.8"/>
<line x1="270.85" y1="188.1" x2="270.85" y2="184" stroke="#8a8a8a" stroke-width="1"/>
<line x1="268.85" y1="184" x2="272.85" y2="184" stroke="#8a8a8a" stroke-width="1"/>
<rect x="253.55" y="174.65" width="8.2" height="102.45" fill="#fff" stroke="#999" stroke-width="1.3"/>
<rect x="266.1" y="188.1" width="9.5" height="89" fill="#000" stroke="none" stroke-width="1"/>
<line x1="252.9" y1="281" x2="275.6" y2="281" stroke="#000" stroke-width="1.8"/>
<line x1="297.35" y1="222.7" x2="297.35" y2="213.1" stroke="#8a8a8a" stroke-width="1"/>
<line x1="295.35" y1="213.1" x2="299.35" y2="213.1" stroke="#8a8a8a" stroke-width="1"/>
<rect x="280.05" y="176.95" width="8.2" height="100.15" fill="#fff" stroke="#999" stroke-width="1.3"/>
<rect x="292.6" y="222.7" width="9.5" height="54.4" fill="#000" stroke="none" stroke-width="1"/>
<line x1="279.4" y1="281" x2="302.1" y2="281" stroke="#000" stroke-width="1.8"/>
<line x1="310.65" y1="203" x2="310.65" y2="195.4" stroke="#8a8a8a" stroke-width="1"/>
<line x1="308.65" y1="195.4" x2="312.65" y2="195.4" stroke="#8a8a8a" stroke-width="1"/>
<line x1="323.85" y1="233.6" x2="323.85" y2="222.7" stroke="#8a8a8a" stroke-width="1"/>
<line x1="321.85" y1="222.7" x2="325.85" y2="222.7" stroke="#8a8a8a" stroke-width="1"/>
<rect x="306.55" y="203.65" width="8.2" height="73.45" fill="#fff" stroke="#999" stroke-width="1.3"/>
<rect x="319.1" y="233.6" width="9.5" height="43.5" fill="#000" stroke="none" stroke-width="1"/>
<line x1="305.9" y1="281" x2="328.6" y2="281" stroke="#000" stroke-width="1.8"/>
<line x1="224.1" y1="277.1" x2="329.1" y2="277.1" stroke="#777" stroke-width="0.9"/>
<text x="237.25" y="291.2" font-size="9.3" text-anchor="middle" class="hv" textLength="17.2" lengthAdjust="spacingAndGlyphs">Gr-1</text>
<text x="264.6" y="291.2" font-size="9.3" text-anchor="middle" class="hv" textLength="24.6" lengthAdjust="spacingAndGlyphs">Mac-1</text>
<text x="291.1" y="291.2" font-size="9.3" text-anchor="middle" class="hv" textLength="20.8" lengthAdjust="spacingAndGlyphs">B220</text>
<text x="305.8" y="291.2" font-size="8.6" class="hv" textLength="36.8" lengthAdjust="spacingAndGlyphs">CD4, CD8</text>
<polyline points="231.35,173.8 231.35,166.5 243.75,166.5 243.75,173.8" fill="none" stroke="#000" stroke-width="1.6"/>
<text x="237.25" y="168.07" font-size="17" text-anchor="middle" >*</text>
<polyline points="257.85,173.8 257.85,166.5 270.25,166.5 270.25,173.8" fill="none" stroke="#000" stroke-width="1.6"/>
<text x="263.75" y="168.07" font-size="17" text-anchor="middle" >*</text>
<polyline points="284.35,173.8 284.35,166.7 296.75,166.7 296.75,173.8" fill="none" stroke="#000" stroke-width="1.6"/>
<text x="290.25" y="167.97" font-size="17" text-anchor="middle" >*</text>
<rect x="317" y="154" width="4.6" height="4.6" fill="#fff" stroke="#777" stroke-width="1.2"/>
<rect x="316.4" y="162.4" width="5.8" height="5.8" fill="#000" stroke="none" stroke-width="1"/>
<text x="325.9" y="159.3" font-size="8.2" >WT</text>
<text x="325.9" y="168.3" font-size="8.2" font-weight="bold" font-style="italic">Cul4A<tspan font-size="4.4" dy="-3.4">+/-</tspan></text>
<line x1="400.4" y1="171.1" x2="400.4" y2="277.1" stroke="#8a8a8a" stroke-width="1.2"/>
<text x="398.8" y="279.99" font-size="9.2" text-anchor="end" class="lt" textLength="4.45" lengthAdjust="spacingAndGlyphs">0</text>
<line x1="398.9" y1="277.1" x2="400.4" y2="277.1" stroke="#8a8a8a" stroke-width="0.8"/>
<text x="398.8" y="269.39" font-size="9.2" text-anchor="end" class="lt" textLength="8.90" lengthAdjust="spacingAndGlyphs">10</text>
<line x1="398.9" y1="266.5" x2="400.4" y2="266.5" stroke="#8a8a8a" stroke-width="0.8"/>
<text x="398.8" y="258.79" font-size="9.2" text-anchor="end" class="lt" textLength="8.90" lengthAdjust="spacingAndGlyphs">20</text>
<line x1="398.9" y1="255.9" x2="400.4" y2="255.9" stroke="#8a8a8a" stroke-width="0.8"/>
<text x="398.8" y="248.19" font-size="9.2" text-anchor="end" class="lt" textLength="8.90" lengthAdjust="spacingAndGlyphs">30</text>
<line x1="398.9" y1="245.3" x2="400.4" y2="245.3" stroke="#8a8a8a" stroke-width="0.8"/>
<text x="398.8" y="237.59" font-size="9.2" text-anchor="end" class="lt" textLength="8.90" lengthAdjust="spacingAndGlyphs">40</text>
<line x1="398.9" y1="234.7" x2="400.4" y2="234.7" stroke="#8a8a8a" stroke-width="0.8"/>
<text x="398.8" y="226.99" font-size="9.2" text-anchor="end" class="lt" textLength="8.90" lengthAdjust="spacingAndGlyphs">50</text>
<line x1="398.9" y1="224.1" x2="400.4" y2="224.1" stroke="#8a8a8a" stroke-width="0.8"/>
<text x="398.8" y="216.39" font-size="9.2" text-anchor="end" class="lt" textLength="8.90" lengthAdjust="spacingAndGlyphs">60</text>
<line x1="398.9" y1="213.5" x2="400.4" y2="213.5" stroke="#8a8a8a" stroke-width="0.8"/>
<text x="398.8" y="205.79" font-size="9.2" text-anchor="end" class="lt" textLength="8.90" lengthAdjust="spacingAndGlyphs">70</text>
<line x1="398.9" y1="202.9" x2="400.4" y2="202.9" stroke="#8a8a8a" stroke-width="0.8"/>
<text x="398.8" y="195.19" font-size="9.2" text-anchor="end" class="lt" textLength="8.90" lengthAdjust="spacingAndGlyphs">80</text>
<line x1="398.9" y1="192.3" x2="400.4" y2="192.3" stroke="#8a8a8a" stroke-width="0.8"/>
<text x="398.8" y="184.59" font-size="9.2" text-anchor="end" class="lt" textLength="8.90" lengthAdjust="spacingAndGlyphs">90</text>
<line x1="398.9" y1="181.7" x2="400.4" y2="181.7" stroke="#8a8a8a" stroke-width="0.8"/>
<text x="398.8" y="173.99" font-size="9.2" text-anchor="end" class="lt" textLength="13.35" lengthAdjust="spacingAndGlyphs">100</text>
<line x1="398.9" y1="171.1" x2="400.4" y2="171.1" stroke="#8a8a8a" stroke-width="0.8"/>
<line x1="406.95" y1="222.8" x2="406.95" y2="210" stroke="#8a8a8a" stroke-width="1"/>
<line x1="404.95" y1="210" x2="408.95" y2="210" stroke="#8a8a8a" stroke-width="1"/>
<line x1="420.15" y1="261.8" x2="420.15" y2="255.5" stroke="#8a8a8a" stroke-width="1"/>
<line x1="418.15" y1="255.5" x2="422.15" y2="255.5" stroke="#8a8a8a" stroke-width="1"/>
<rect x="402.85" y="223.45" width="8.2" height="53.65" fill="#fff" stroke="#999" stroke-width="1.3"/>
<rect x="415.4" y="261.8" width="9.5" height="15.3" fill="#000" stroke="none" stroke-width="1"/>
<line x1="403.1" y1="281.6" x2="425.8" y2="281.6" stroke="#000" stroke-width="1.8"/>
<line x1="433.45" y1="219.5" x2="433.45" y2="205.1" stroke="#8a8a8a" stroke-width="1"/>
<line x1="431.45" y1="205.1" x2="435.45" y2="205.1" stroke="#8a8a8a" stroke-width="1"/>
<line x1="446.65" y1="261.8" x2="446.65" y2="254.4" stroke="#8a8a8a" stroke-width="1"/>
<line x1="444.65" y1="254.4" x2="448.65" y2="254.4" stroke="#8a8a8a" stroke-width="1"/>
<rect x="429.35" y="220.15" width="8.2" height="56.95" fill="#fff" stroke="#999" stroke-width="1.3"/>
<rect x="441.9" y="261.8" width="9.5" height="15.3" fill="#000" stroke="none" stroke-width="1"/>
<line x1="429.6" y1="281.6" x2="452.3" y2="281.6" stroke="#000" stroke-width="1.8"/>
<line x1="459.95" y1="224.5" x2="459.95" y2="215.4" stroke="#8a8a8a" stroke-width="1"/>
<line x1="457.95" y1="215.4" x2="461.95" y2="215.4" stroke="#8a8a8a" stroke-width="1"/>
<line x1="473.15" y1="258.9" x2="473.15" y2="256" stroke="#8a8a8a" stroke-width="1"/>
<line x1="471.15" y1="256" x2="475.15" y2="256" stroke="#8a8a8a" stroke-width="1"/>
<rect x="455.85" y="225.15" width="8.2" height="51.95" fill="#fff" stroke="#999" stroke-width="1.3"/>
<rect x="468.4" y="258.9" width="9.5" height="18.2" fill="#000" stroke="none" stroke-width="1"/>
<line x1="456.1" y1="281.6" x2="478.8" y2="281.6" stroke="#000" stroke-width="1.8"/>
<line x1="486.45" y1="226.3" x2="486.45" y2="216.1" stroke="#8a8a8a" stroke-width="1"/>
<line x1="484.45" y1="216.1" x2="488.45" y2="216.1" stroke="#8a8a8a" stroke-width="1"/>
<line x1="499.65" y1="260.9" x2="499.65" y2="257.8" stroke="#8a8a8a" stroke-width="1"/>
<line x1="497.65" y1="257.8" x2="501.65" y2="257.8" stroke="#8a8a8a" stroke-width="1"/>
<rect x="482.35" y="226.95" width="8.2" height="50.15" fill="#fff" stroke="#999" stroke-width="1.3"/>
<rect x="494.9" y="260.9" width="9.5" height="16.2" fill="#000" stroke="none" stroke-width="1"/>
<line x1="482.6" y1="281.6" x2="505.3" y2="281.6" stroke="#000" stroke-width="1.8"/>
<line x1="399.9" y1="277.1" x2="504.9" y2="277.1" stroke="#777" stroke-width="0.9"/>
<text x="413.95" y="291.2" font-size="9.3" text-anchor="middle" class="hv" textLength="17.2" lengthAdjust="spacingAndGlyphs">Gr-1</text>
<text x="441.3" y="291.2" font-size="9.3" text-anchor="middle" class="hv" textLength="24.6" lengthAdjust="spacingAndGlyphs">Mac-1</text>
<text x="467.8" y="291.2" font-size="9.3" text-anchor="middle" class="hv" textLength="20.8" lengthAdjust="spacingAndGlyphs">B220</text>
<text x="482.5" y="291.2" font-size="8.6" class="hv" textLength="36.8" lengthAdjust="spacingAndGlyphs">CD4, CD8</text>
<polyline points="407.15,205.3 407.15,198.3 419.55,198.3 419.55,205.3" fill="none" stroke="#000" stroke-width="1.6"/>
<text x="413.05" y="200.07" font-size="17" text-anchor="middle" >*</text>
<polyline points="433.65,205.3 433.65,198.3 446.05,198.3 446.05,205.3" fill="none" stroke="#000" stroke-width="1.6"/>
<text x="439.55" y="200.07" font-size="17" text-anchor="middle" >*</text>
<polyline points="460.15,205.3 460.15,198.3 472.55,198.3 472.55,205.3" fill="none" stroke="#000" stroke-width="1.6"/>
<text x="466.05" y="200.57" font-size="17" text-anchor="middle" >*</text>
<polyline points="486.65,216.5 486.65,209.2 499.05,209.2 499.05,216.5" fill="none" stroke="#000" stroke-width="1.6"/>
<text x="492.55" y="211.67" font-size="17" text-anchor="middle" >*</text>
<rect x="468.35" y="171.6" width="4.6" height="4.6" fill="#fff" stroke="#777" stroke-width="1.2"/>
<rect x="467.75" y="180.1" width="5.8" height="5.8" fill="#000" stroke="none" stroke-width="1"/>
<text x="477.9" y="176.9" font-size="8.2" >WT</text>
<text x="477.9" y="186" font-size="8.2" font-weight="bold" font-style="italic">Cul4A<tspan font-size="4.4" dy="-3.4">+/-</tspan></text>
</svg>
</body></html>
